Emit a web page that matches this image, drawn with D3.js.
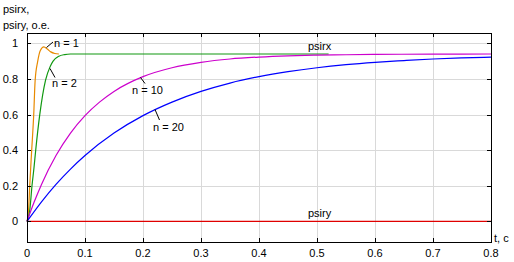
<!DOCTYPE html>
<html>
<head>
<meta charset="utf-8">
<script src="https://cdn.jsdelivr.net/npm/d3@7"></script>
<style>
  body { margin: 0; background: #fff; }
  text { font-family: "Liberation Sans", Arial, sans-serif; font-size: 11px; fill: #000; }
</style>
</head>
<body>
<div id="chart"></div>
<script>
// values
const xTicks = [0, 0.1, 0.2, 0.3, 0.4, 0.5, 0.6, 0.7, 0.8]
const yTicks = [0, 0.2, 0.4, 0.6, 0.8, 1]

const tN1 = [0, 0.003, 0.0047, 0.0081, 0.0116, 0.014, 0.0185, 0.023, 0.029, 0.035, 0.041, 0.048, 0.055]
const vN1 = [0, 0.08, 0.2, 0.4, 0.6, 0.79, 0.9, 0.96, 0.98, 0.968, 0.952, 0.943, 0.94]

const tN2 = [0, 0.005, 0.0086, 0.012, 0.015, 0.022, 0.032, 0.04, 0.045, 0.055, 0.065, 0.075, 0.3, 0.52]
const vN2 = [0, 0.07, 0.2, 0.3, 0.4, 0.6, 0.794, 0.87, 0.9, 0.928, 0.937, 0.94, 0.94, 0.94]

const tN10 = [0, 0.0125, 0.025, 0.05, 0.075, 0.1, 0.125, 0.15, 0.2, 0.25, 0.3, 0.35, 0.4, 0.45, 0.5, 0.55, 0.6, 0.7, 0.8]
const vN10 = [0, 0.11, 0.208, 0.37, 0.496, 0.594, 0.67, 0.73, 0.813, 0.863, 0.893, 0.912, 0.923, 0.93, 0.934, 0.936, 0.938, 0.939, 0.94]

const tN20 = [0, 0.025, 0.05, 0.075, 0.1, 0.15, 0.2, 0.25, 0.3, 0.35, 0.4, 0.45, 0.5, 0.55, 0.6, 0.65, 0.7, 0.75, 0.8]
const vN20 = [0, 0.11, 0.208, 0.294, 0.37, 0.496, 0.594, 0.67, 0.73, 0.777, 0.813, 0.841, 0.863, 0.88, 0.893, 0.903, 0.912, 0.918, 0.922]

const tY = [0, 0.8]
const vY = [0, 0]

const width = 514
const height = 262
const margin = { top: 33, left: 27, right: 23, bottom: 20 }

const svg = d3
  .select('#chart')
  .append('svg')
  .attr('width', width)
  .attr('height', height)

const x = d3.scaleLinear().domain([0, 0.8]).range([margin.left, width - margin.right])
const y = d3.scaleLinear().domain([-0.1155, 1.058]).range([height - margin.bottom, margin.top])

// grid
svg.append('g')
  .selectAll('line.vx')
  .data(xTicks.slice(1, -1))
  .enter()
  .append('line')
  .attr('x1', d => Math.round(x(d)) + 0.5)
  .attr('x2', d => Math.round(x(d)) + 0.5)
  .attr('y1', margin.top)
  .attr('y2', height - margin.bottom)
  .attr('stroke', '#d9d9d9')

svg.append('g')
  .selectAll('line.hy')
  .data(yTicks.slice(1))
  .enter()
  .append('line')
  .attr('x1', margin.left)
  .attr('x2', width - margin.right)
  .attr('y1', d => Math.round(y(d)) + 0.5)
  .attr('y2', d => Math.round(y(d)) + 0.5)
  .attr('stroke', '#d9d9d9')

// curves
const line = d3.line()
  .x(d => x(d[0]))
  .y(d => y(d[1]))
  .curve(d3.curveMonotoneX)

const series = [
  { t: tY, v: vY, color: '#e00000' },
  { t: tN1, v: vN1, color: '#e88a00' },
  { t: tN2, v: vN2, color: '#109810' },
  { t: tN10, v: vN10, color: '#cc00cc' },
  { t: tN20, v: vN20, color: '#0000ff' }
]

svg.selectAll('path.curve')
  .data(series)
  .enter()
  .append('path')
  .attr('class', 'curve')
  .attr('d', d => line(d.t.map((t, i) => [t, d.v[i]])))
  .attr('fill', 'none')
  .attr('stroke', d => d.color)
  .attr('stroke-width', 1.2)

// frame and inward ticks
const x0 = x(0), x1 = x(0.8), yTop = y.range()[1], yBot = y.range()[0]
svg.append('rect')
  .attr('x', x0 + 0.5)
  .attr('y', yTop + 0.5)
  .attr('width', x1 - x0)
  .attr('height', yBot - yTop)
  .attr('fill', 'none')
  .attr('stroke', '#000')

const tk = 4
const ticks = svg.append('g').attr('stroke', '#000')
xTicks.slice(1, -1).forEach(d => {
  const xx = Math.round(x(d)) + 0.5
  ticks.append('line').attr('x1', xx).attr('x2', xx).attr('y1', yBot).attr('y2', yBot - tk)
  ticks.append('line').attr('x1', xx).attr('x2', xx).attr('y1', yTop).attr('y2', yTop + tk)
})
yTicks.forEach(d => {
  const yy = Math.round(y(d)) + 0.5
  ticks.append('line').attr('x1', x0).attr('x2', x0 + tk).attr('y1', yy).attr('y2', yy)
  ticks.append('line').attr('x1', x1).attr('x2', x1 - tk).attr('y1', yy).attr('y2', yy)
})

// tick labels
svg.append('g')
  .selectAll('text')
  .data(xTicks)
  .enter()
  .append('text')
  .attr('x', d => x(d))
  .attr('y', yBot + 15)
  .attr('text-anchor', 'middle')
  .text(d => d)

svg.append('g')
  .selectAll('text')
  .data(yTicks)
  .enter()
  .append('text')
  .attr('x', 18)
  .attr('y', d => y(d) + 4)
  .attr('text-anchor', 'end')
  .text(d => d)

// axis titles
svg.append('text').attr('x', 3).attr('y', 13).text('psirx,')
svg.append('text').attr('x', 3).attr('y', 29).text('psiry, o.e.')
svg.append('text').attr('x', 494).attr('y', 242).text('t, c')

// annotations
const notes = [
  { label: 'n = 1', tx: 54, ty: 47, lx1: 46.5, ly1: 47.5, lx2: 53, ly2: 42 },
  { label: 'n = 2', tx: 52, ty: 87, lx1: 50, ly1: 68.5, lx2: 55, ly2: 77.5 },
  { label: 'n = 10', tx: 132, ty: 94, lx1: 140.5, ly1: 77.5, lx2: 145, ly2: 83.5 },
  { label: 'n = 20', tx: 153, ty: 131, lx1: 155, ly1: 109.5, lx2: 159.5, ly2: 120 }
]
notes.forEach(n => {
  svg.append('line')
    .attr('x1', n.lx1).attr('y1', n.ly1).attr('x2', n.lx2).attr('y2', n.ly2)
    .attr('stroke', '#000')
  svg.append('text').attr('x', n.tx).attr('y', n.ty).text(n.label)
})
svg.append('text').attr('x', 308).attr('y', 50).text('psirx')
svg.append('text').attr('x', 308).attr('y', 217).text('psiry')
</script>
</body>
</html>
